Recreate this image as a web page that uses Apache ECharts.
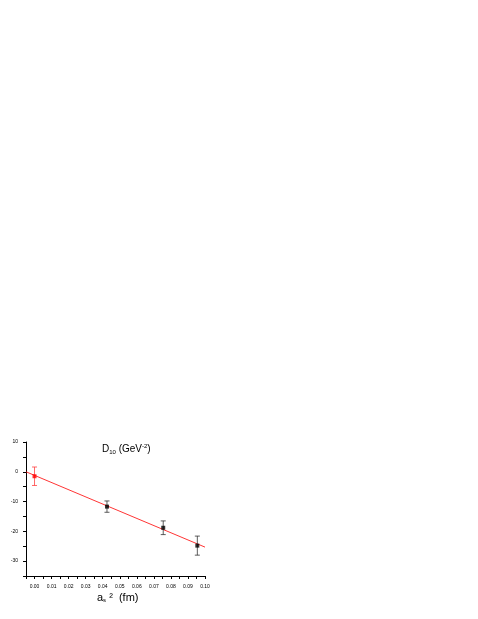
<!DOCTYPE html><html><head><meta charset="utf-8"><script src="https://cdn.jsdelivr.net/npm/echarts@6/dist/echarts.min.js"></script>
<style>body{margin:0}#c{width:478px;height:619px}</style></head><body><div id="c"></div><script>
const xs=[0,0.0425,0.0755,0.0955];
const ys=[-1.5,-11.7,-18.8,-24.8];
const errs=[3.1,1.9,2.3,3.2];
const fitX=[-0.005,0.1];
const fitY=[0.0,-25.3];
const xTicks=[0,0.01,0.02,0.03,0.04,0.05,0.06,0.07,0.08,0.09,0.1];
const yTicks=[10,0,-10,-20,-30];
const pts=xs.map((x,i)=>[x,ys[i],errs[i]]);
const c=echarts.init(document.getElementById('c'));
c.setOption({animation:false,
grid:{left:26,right:273,top:442,bottom:43},
title:{text:'{a|D}{s|10}{a| (GeV}{p|-2}{a|)}',left:97,top:438,textStyle:{fontWeight:'normal',rich:{a:{fontSize:10,fontFamily:'Arial',color:'#000',fontWeight:'normal'},s:{fontSize:6,verticalAlign:'bottom',padding:[6,0,0,0],color:'#000'},p:{fontSize:6,verticalAlign:'top',padding:[0,0,6,0],color:'#000'}}}},
graphic:[{type:'text',left:97,top:592,style:{rich:{a:{fontSize:11,fontFamily:'Arial'},s:{fontSize:6,padding:[6,0,0,0]}},text:'{a|a}{s|s}{a| ²  (fm)}',fill:'#000'}}],
xAxis:{type:'value',min:-0.005,max:0.1,interval:0.005,axisLine:{onZero:false,lineStyle:{color:'#000',width:1}},
 axisTick:{lineStyle:{color:'#000'},length:3},splitLine:{show:false},
 axisLabel:{fontSize:5,color:'#000',formatter:v=>{const r=Math.round(v*1000)/1000;return xTicks.some(t=>Math.abs(t-r)<1e-9)?r.toFixed(2):'';}}},
yAxis:{type:'value',min:-35,max:10,interval:5,axisLine:{show:true,onZero:false,lineStyle:{color:'#000',width:1}},
 axisTick:{show:true,lineStyle:{color:'#000'},length:3},splitLine:{show:false},
 axisLabel:{fontSize:5,color:'#000',formatter:v=>yTicks.includes(v)?String(v):''}},
series:[
{type:'line',data:fitX.map((x,i)=>[x,fitY[i]]),symbol:'none',lineStyle:{color:'#ff0000',width:0.8},z:1},
{type:'custom',data:pts,renderItem:(p,api)=>{const x=api.value(0),y=api.value(1),e=api.value(2);
 const a=api.coord([x,y+e]),b=api.coord([x,y-e]);const col=p.dataIndex===0?'#ff4040':'#333';
 return {type:'group',children:[
 {type:'line',shape:{x1:a[0],y1:a[1],x2:b[0],y2:b[1]},style:{stroke:col,lineWidth:0.8}},
 {type:'line',shape:{x1:a[0]-2.5,y1:a[1],x2:a[0]+2.5,y2:a[1]},style:{stroke:col,lineWidth:0.8}},
 {type:'line',shape:{x1:b[0]-2.5,y1:b[1],x2:b[0]+2.5,y2:b[1]},style:{stroke:col,lineWidth:0.8}}]};},z:2},
{type:'scatter',data:pts.map(p=>[p[0],p[1]]),symbol:'rect',symbolSize:4,
 itemStyle:{color:p=>p.dataIndex===0?'#ff0000':'#000'},z:3}
]});
</script></body></html>
